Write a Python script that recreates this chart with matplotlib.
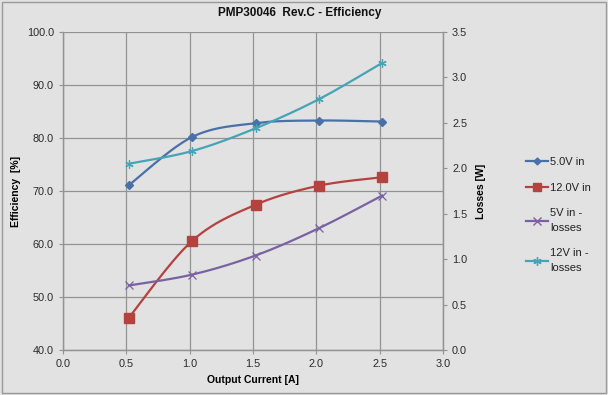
import numpy as np
import matplotlib
matplotlib.use("Agg")
import matplotlib.pyplot as plt
from matplotlib.lines import Line2D

plt.rcParams['font.family'] = ['Liberation Sans', 'DejaVu Sans']

current = [0.52, 1.02, 1.52, 2.02, 2.52]
eff_5v = [71.1, 80.2, 82.8, 83.3, 83.1]
eff_12v = [46.1, 60.6, 67.4, 71.0, 72.6]
loss_5v = [0.71, 0.83, 1.04, 1.34, 1.70]
loss_12v = [2.05, 2.19, 2.44, 2.76, 3.16]

series_names = ["5.0V in", "12.0V in", "5V in -\nlosses", "12V in -\nlosses"]
colors = ["#4a70a8", "#b5423f", "#7a62a2", "#46a4b6"]

BG = "#e2e2e2"
GRID = "#939393"


def smooth(xs, ys, xlim, ylim, n=40):
    # Excel-like "smoothed line" (Catmull-Rom Bezier) in normalized coords
    x = (np.asarray(xs) - xlim[0]) / (xlim[1] - xlim[0])
    y = (np.asarray(ys) - ylim[0]) / (ylim[1] - ylim[0])
    P = np.column_stack([x, y])
    P = np.vstack([P[0], P, P[-1]])
    out = []
    t = np.linspace(0, 1, n)[:, None]
    for i in range(1, len(P) - 2):
        p0, p1, p2, p3 = P[i - 1], P[i], P[i + 1], P[i + 2]
        c1 = p1 + (p2 - p0) / 6
        c2 = p2 - (p3 - p1) / 6
        seg = ((1 - t) ** 3) * p1 + 3 * ((1 - t) ** 2) * t * c1 + 3 * (1 - t) * t ** 2 * c2 + t ** 3 * p2
        out.append(seg)
    S = np.vstack(out)
    return S[:, 0] * (xlim[1] - xlim[0]) + xlim[0], S[:, 1] * (ylim[1] - ylim[0]) + ylim[0]


fig = plt.figure(figsize=(6.08, 3.95), dpi=100, facecolor=BG)
ax = fig.add_axes([63 / 608, 1 - 350 / 395, 380 / 608, 318 / 395])
ax.set_facecolor(BG)
ax2 = ax.twinx()

xlim = (0, 3.0)
ylim = (40, 100)
y2lim = (0, 3.5)
ax.set_xlim(*xlim)
ax.set_ylim(*ylim)
ax2.set_ylim(*y2lim)

xt = np.arange(0, 3.01, 0.5)
yt = np.arange(40, 100.1, 10)
y2t = np.arange(0, 3.51, 0.5)
ax.set_xticks(xt)
ax.set_xticklabels([f"{v:.1f}" for v in xt])
ax.set_yticks(yt)
ax.set_yticklabels([f"{v:.1f}" for v in yt])
ax2.set_yticks(y2t)
ax2.set_yticklabels([f"{v:.1f}" for v in y2t])

ax.grid(True, color=GRID, linewidth=0.9)
ax.set_axisbelow(True)

for a in (ax, ax2):
    for s in a.spines.values():
        s.set_color(GRID)
        s.set_linewidth(0.9)
    a.spines['top'].set_visible(False)
ax.tick_params(axis='both', colors=GRID, labelcolor="#2a2a2a", labelsize=7.8, length=3, width=0.8)
ax2.tick_params(axis='y', colors=GRID, labelcolor="#2a2a2a", labelsize=7.8, length=3, width=0.8)

# efficiency (left axis)
for ys, c, mk, ms in [(eff_5v, colors[0], 'D', 4.5), (eff_12v, colors[1], 's', 6.5)]:
    sx, sy = smooth(current, ys, xlim, ylim)
    ax.plot(sx, sy, color=c, linewidth=1.6, zorder=3)
    ax.plot(current, ys, linestyle='none', marker=mk, markersize=ms, color=c, zorder=4)

# losses (right axis)
for ys, c, mk in [(loss_5v, colors[2], 'x'), (loss_12v, colors[3], (6, 2, 0))]:
    sx, sy = smooth(current, ys, xlim, y2lim)
    ax2.plot(sx, sy, color=c, linewidth=1.6, zorder=3)
    ax2.plot(current, ys, linestyle='none', marker=mk, markersize=6, color=c,
             markeredgewidth=0.9, zorder=4)

ax.set_xlabel("Output Current [A]", fontsize=7.5, fontweight='bold', labelpad=4)
ax.set_ylabel("Efficiency  [%]", fontsize=7.5, fontweight='bold', labelpad=4)
ax2.set_ylabel("Losses [W]", fontsize=7.5, fontweight='bold', labelpad=6)
fig.text(300 / 608, 1 - 13 / 395, "PMP30046  Rev.C - Efficiency",
         fontsize=8.5, fontweight='bold', ha='center', va='center', color="#111111")

handles = [
    Line2D([], [], color=colors[0], marker='D', markersize=3.5, linewidth=1.6),
    Line2D([], [], color=colors[1], marker='s', markersize=6, linewidth=1.6),
    Line2D([], [], color=colors[2], marker='x', markersize=6, linewidth=1.6),
    Line2D([], [], color=colors[3], marker=(6, 2, 0), markersize=6, linewidth=1.6),
]
leg = fig.legend(handles, series_names, loc='upper left', bbox_to_anchor=(526 / 608, 1 - 157 / 395),
                 frameon=False, fontsize=8, handlelength=2.0, handletextpad=0.15,
                 labelspacing=1.4, borderaxespad=0, borderpad=0)
for t in leg.get_texts():
    t.set_color("#222222")
    t.set_linespacing(1.6)

# outer border
fig.patches.append(plt.Rectangle((0.004, 0.004), 0.992, 0.992, transform=fig.transFigure,
                                 fill=False, edgecolor="#9a9a9a", linewidth=1.0))

fig.savefig("out.png", dpi=100, facecolor=BG)
